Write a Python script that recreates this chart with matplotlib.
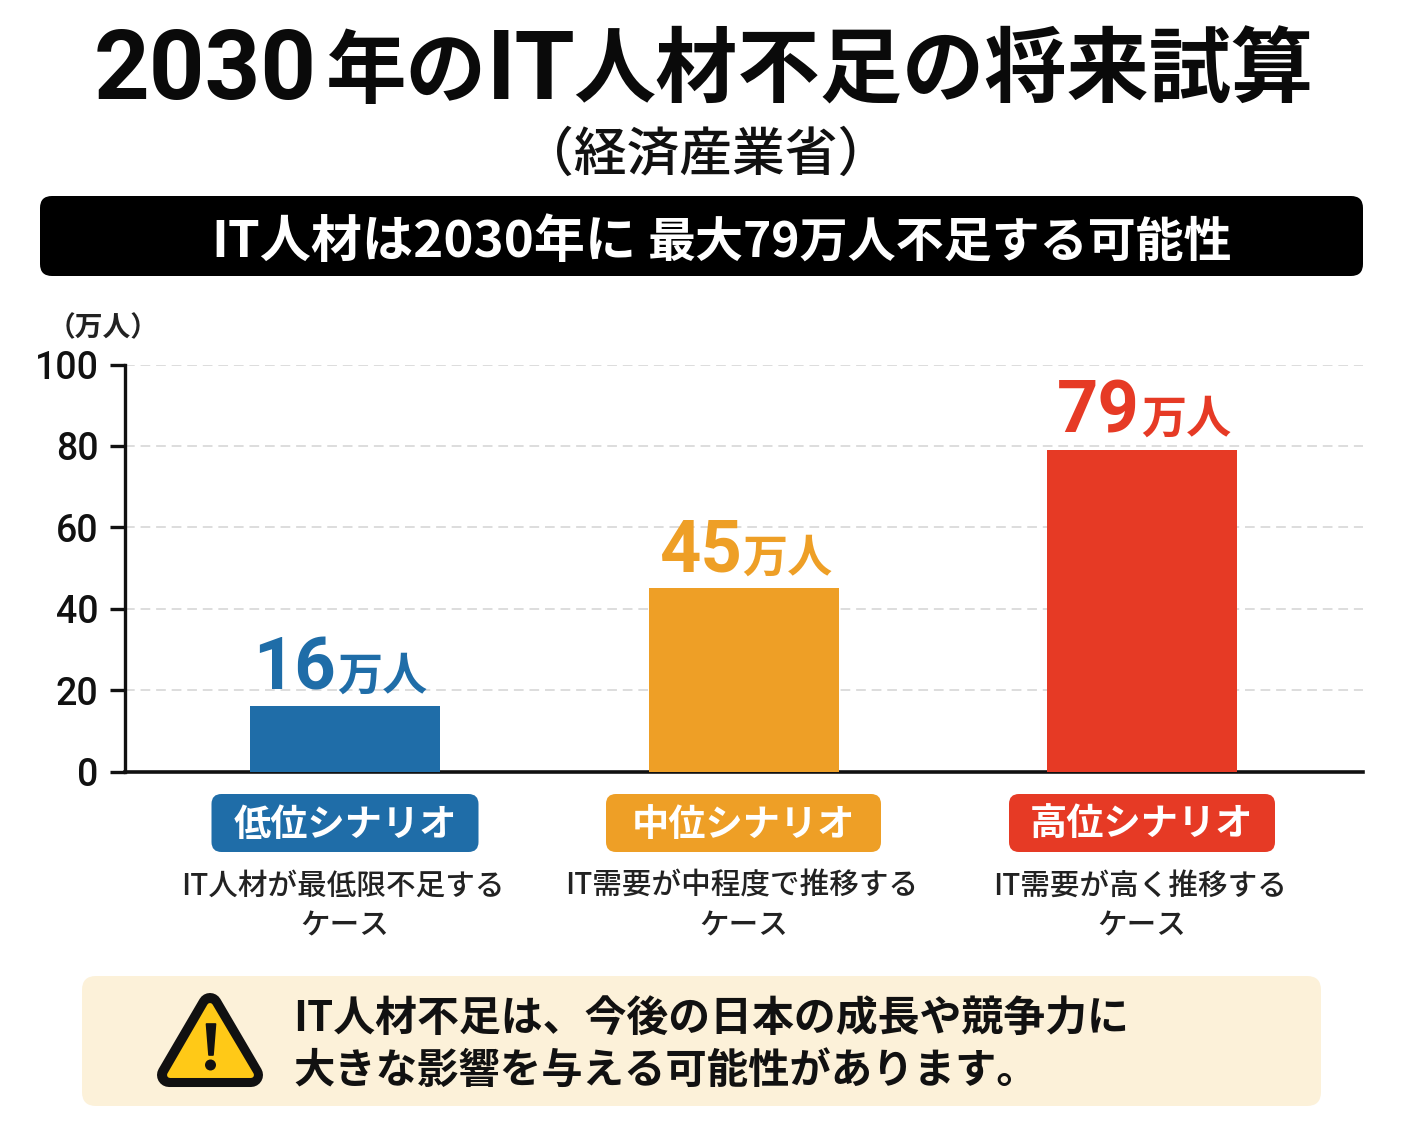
import matplotlib
matplotlib.use("Agg")
import matplotlib.pyplot as plt
from matplotlib.patches import FancyBboxPatch, Polygon, Circle

W, H = 1402, 1122
JP = ['Noto Sans CJK JP', 'DejaVu Sans']
LATIN = ['Roboto', 'Noto Sans CJK JP']
plt.rcParams['font.family'] = JP

scenarios = ["低位シナリオ", "中位シナリオ", "高位シナリオ"]
values = [16, 45, 79]
value_labels = ["16", "45", "79"]
colors = ["#1F6DA8", "#EE9F26", "#E63A25"]
descriptions = ["IT人材が最低限不足する\nケース", "IT需要が中程度で推移する\nケース", "IT需要が高く推移する\nケース"]
yticks = [0, 20, 40, 60, 80, 100]

fig = plt.figure(figsize=(W / 100, H / 100), dpi=100, facecolor="white")

# full-figure pixel overlay for the header and footer furniture
bg = fig.add_axes([0, 0, 1, 1])
bg.set_xlim(0, W)
bg.set_ylim(H, 0)
bg.axis("off")


def rounded(x0, y0, x1, y1, r, color):
    bg.add_patch(FancyBboxPatch((x0 + r, y0 + r), x1 - x0 - 2 * r, y1 - y0 - 2 * r,
                                boxstyle=f"round,pad={r},rounding_size={r}",
                                fc=color, ec="none"))


# the headline mixes larger Latin digits with slightly smaller kana and kanji
title_runs = [("2030", 94, 99, LATIN, 70), ("年の", 326, 97, JP, 58),
              ("IT", 487, 99, LATIN, 70), ("人材不足の将来試算", 573, 97, JP, 59.2)]
for txt, x, y, fam, size in title_runs:
    bg.text(x, y, txt, ha="left", va="baseline", family=fam,
            fontsize=size, fontweight="bold", color="#0a0a0a")

bg.text(706, 156, "（経済産業省）", ha="center", va="center",
        fontsize=38, fontweight="medium", color="#111111")
rounded(40, 196, 1363, 276, 12, "#000000")
bg.text(211, 242, "IT人材は2030年に", ha="left", va="center",
        fontsize=36.8, fontweight="bold", color="white")
bg.text(648, 242, "最大79万人不足する可能性", ha="left", va="center",
        fontsize=34.6, fontweight="bold", color="white")
bg.text(103, 328, "（万人）", ha="center", va="center", fontsize=20, fontweight="bold", color="#222222")

# bar chart
x_left, x_right, y_top, y_base = 125, 1363, 364.5, 771.5
ax = fig.add_axes([x_left / W, 1 - y_base / H, (x_right - x_left) / W, (y_base - y_top) / H])
ax.patch.set_alpha(0)
ax.set_ylim(0, 100)
ax.set_xlim(x_left, x_right)
bar_x = [345, 743.5, 1142]
ax.bar(bar_x, values, width=190, color=colors, zorder=3)
ax.set_yticks(yticks)
ax.set_xticks([])
ax.tick_params(axis="y", length=11, width=2.4, color="#111111", labelsize=27, pad=8, labelcolor="#111111")
for lbl in ax.get_yticklabels():
    lbl.set_fontweight("medium")
    lbl.set_family(LATIN)
ax.yaxis.grid(True, color="#dddddd", linestyle=(0, (5, 3)), linewidth=1.4, zorder=0)
for side in ("top", "right"):
    ax.spines[side].set_visible(False)
ax.spines["left"].set_linewidth(2.4)
ax.spines["left"].set_color("#111111")
ax.spines["bottom"].set_linewidth(2.6)
ax.spines["bottom"].set_color("#111111")

# value annotations: large number followed by a smaller unit
label_shift = [-7, 0, 0]
for x, s, v, lab, c in zip(bar_x, label_shift, values, value_labels, colors):
    ax.annotate(lab, (x + s - 2, v), xytext=(0, 17), textcoords="offset pixels",
                ha="right", va="baseline", fontsize=52, fontweight="bold", color=c,
                family=LATIN, zorder=5)
    ax.annotate("万人", (x + s - 1, v), xytext=(0, 17), textcoords="offset pixels",
                ha="left", va="baseline", fontsize=32.5, fontweight="bold", color=c, zorder=5)

# scenario badges and their captions
badge_w = [267, 275, 266]
for x, w, name, c, d in zip(bar_x, badge_w, scenarios, colors, descriptions):
    rounded(x - w / 2, 794, x + w / 2, 852, 10, c)
    bg.text(x, 825, name, ha="center", va="center", fontsize=26.8, fontweight="bold", color="white")
    first, second = d.split("\n")
    bg.text(x - 2, 886, first, ha="center", va="center", fontsize=21.3, fontweight="medium", color="#222222")
    bg.text(x, 926, second, ha="center", va="center", fontsize=21.3, fontweight="medium", color="#222222")

# notice panel with a warning sign
rounded(82, 976, 1321, 1106, 14, "#FCF1D9")
bg.add_patch(Polygon([(210, 1005), (251, 1075), (169, 1075)], closed=True, fc="#111111",
                     ec="#111111", lw=17.3, joinstyle="round"))
bg.add_patch(Polygon([(210, 1006), (251, 1075), (170, 1075)], closed=True, fc="#FFC917",
                     ec="#FFC917", lw=4.3, joinstyle="round"))
bg.add_patch(Polygon([(206.5, 1024), (215.5, 1024), (213, 1055), (209, 1055)], closed=True, fc="#111111",
                     ec="#111111", lw=1.2, joinstyle="round"))
bg.add_patch(Circle((210.5, 1065), 5.5, fc="#111111", ec="none"))
bg.text(293, 1019, "IT人材不足は、今後の日本の成長や競争力に", ha="left", va="center",
        fontsize=30.2, fontweight="bold", color="#111111")
bg.text(293, 1071, "大きな影響を与える可能性があります。", ha="left", va="center",
        fontsize=29.75, fontweight="bold", color="#111111")

fig.savefig("out.png", dpi=100, facecolor="white")
